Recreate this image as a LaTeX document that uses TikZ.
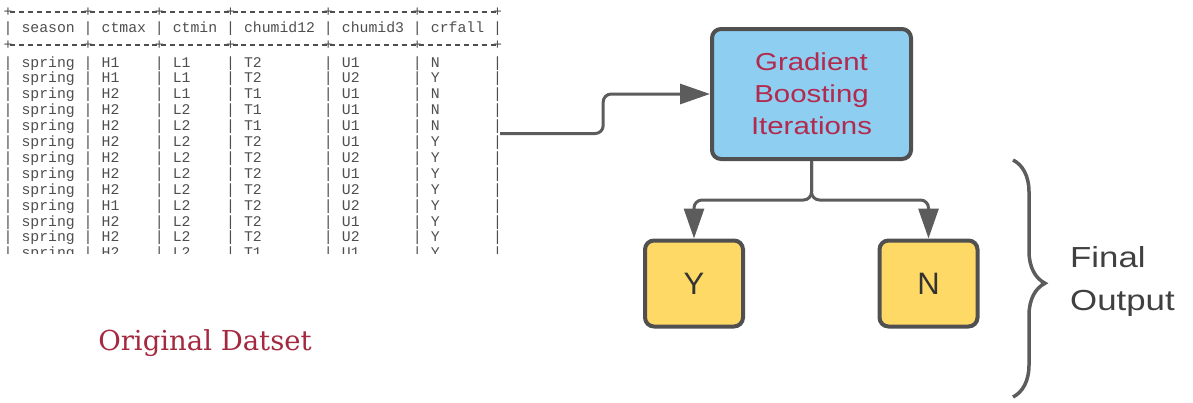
\documentclass[tikz,border=0pt]{standalone}
\usepackage{fontspec}
\setmonofont{Liberation Mono}
\newfontfamily\labelfont[FakeStretch=1.2]{Liberation Sans}
\newfontfamily\plainsans{Liberation Sans}
\newfontfamily\titleserif{DejaVu Serif}
\usetikzlibrary{arrows.meta, positioning, fit, decorations.pathreplacing}

\definecolor{boxblue}{HTML}{8DCEF1}
\definecolor{boxyellow}{HTML}{FFD966}
\definecolor{edgegray}{HTML}{505050}
\definecolor{linegray}{HTML}{5C5C5C}
\definecolor{tablegray}{HTML}{4E4E4E}
\definecolor{labelred}{HTML}{B22A4E}
\definecolor{titlered}{HTML}{A3293F}

\begin{document}
\begin{tikzpicture}[
    x=1pt, y=-1pt,
    node distance = 78pt,
    block/.style = {draw=edgegray, line width=4pt, rounded corners=9pt, align=center},
    iter/.style = {block, fill=boxblue, minimum width=199pt, minimum height=130pt, text=labelred, font=\labelfont\fontsize{24.5}{32}\selectfont},
    outcome/.style = {block, fill=boxyellow, minimum width=98pt, minimum height=86pt, text=black!80, font=\plainsans\fontsize{31}{36}\selectfont},
    cell/.style = {anchor=base west, inner sep=0pt, text=tablegray, font=\ttfamily\fontsize{14.8}{16}\selectfont},
    bar/.style = {cell, anchor=base},
    line/.style = {-{Triangle[length=30pt, width=20pt]}, line width=3pt, draw=linegray, rounded corners=8pt},
    bracket/.style = {draw=linegray, line width=3.5pt, decorate, decoration={brace, amplitude=32pt, aspect=0.52}}
]
    \useasboundingbox (0,0) rectangle (1193,402);

    % Table
    \begin{scope}
        \clip (0,0) rectangle (505,253.5);
        % border rows
        \foreach \y in {12,45} {
            \draw[tablegray, line width=1.2pt, dash pattern=on 5pt off 3.9pt] (10,\y) -- (497.5,\y);
            \foreach \col in {0,9,17,25,36,46,55}
                \node[bar, anchor=center] at ({8+\col*8.9},\y) {+};
        }
        % header
        \foreach \txt/\col in {season/0, ctmax/9, ctmin/17, chumid12/25, chumid3/36, crfall/46}
            \node[cell] at ({8+(\col+1.5)*8.9},32) {\txt};
        \foreach \col in {0,9,17,25,36,46,55}
            \node[bar] at ({8+\col*8.9},32) {|};
        % data rows
        \foreach \sn/\cx/\cn/\ha/\hb/\rf [count=\i] in {
            spring/H1/L1/T2/U1/N, spring/H1/L1/T2/U2/Y, spring/H2/L1/T1/U1/N,
            spring/H2/L2/T1/U1/N, spring/H2/L2/T1/U1/N, spring/H2/L2/T2/U1/Y,
            spring/H2/L2/T2/U2/Y, spring/H2/L2/T2/U1/Y, spring/H2/L2/T2/U2/Y,
            spring/H1/L2/T2/U2/Y, spring/H2/L2/T2/U1/Y, spring/H2/L2/T2/U2/Y,
            spring/H2/L2/T1/U1/Y} {
            \pgfmathsetmacro\rowy{67+(\i-1)*15.9}
            \foreach \txt/\col in {\sn/0, \cx/9, \cn/17, \ha/25, \hb/36, \rf/46}
                \node[cell] at ({8+(\col+1.5)*8.9},\rowy) {\txt};
            \foreach \col in {0,9,17,25,36,46,55}
                \node[bar] at ({8+\col*8.9},\rowy) {|};
        }
    \end{scope}
    \node[fit={(4,12) (500,255)}, inner sep=0pt] (dataset) {};
    \node[text=titlered, font=\titleserif\fontsize{27.5}{34}\selectfont] (title) at (205,343) {Original Datset};

    % Nodes
    \node[iter] (boost) at (811.5,94) {Gradient\\Boosting\\Iterations};
    \node[outcome, below=77.5pt of boost, xshift=-117.5pt] (yes) {Y};
    \node[outcome, below=77.5pt of boost, xshift=117pt] (no) {N};

    % Edges
    \draw[line] (dataset.east) -- ++(103,0) |- (boost.west);
    \draw[line] (boost.south) -- ++(0,39) -| (yes.north);
    \draw[line] (boost.south) -- ++(0,39) -| (no.north);

    % Output brace
    \coordinate (braceTop) at (1013,160);
    \coordinate (braceBot) at (1013,397);
    \draw[bracket] (braceTop) -- (braceBot);
    \node[anchor=west, align=left, inner sep=0pt, text=black!75, font=\labelfont\fontsize{29}{43}\selectfont] (final) at (1070,281.5) {Final\\Output};
\end{tikzpicture}
\end{document}
